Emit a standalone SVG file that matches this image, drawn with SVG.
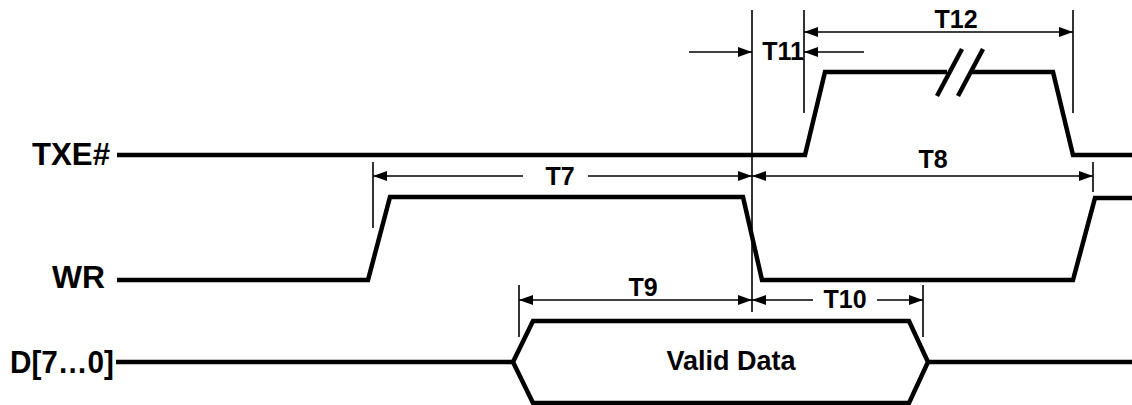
<svg xmlns="http://www.w3.org/2000/svg" width="1132" height="405" viewBox="0 0 1132 405">
<style>
.sig{fill:none;stroke:#000;stroke-width:4.5;stroke-linejoin:miter}
.dim{fill:none;stroke:#000;stroke-width:1.6}
.arr{fill:none;stroke:#000;stroke-width:1.6;marker-end:url(#ah)}
.arr2{fill:none;stroke:#000;stroke-width:1.6;marker-start:url(#ah);marker-end:url(#ah)}
.lbl{font-family:"Liberation Sans",Arial,sans-serif;font-weight:bold;font-size:32px;fill:#000}
.t{font-family:"Liberation Sans",Arial,sans-serif;font-weight:bold;font-size:25px;fill:#000;text-anchor:middle}
</style>
<defs>
<marker id="ah" markerUnits="userSpaceOnUse" markerWidth="15" markerHeight="11" refX="14" refY="5" orient="auto-start-reverse">
<path d="M0,0 L14,5 L0,10 z" fill="#000"/>
</marker>
</defs>
<rect width="1132" height="405" fill="#fff"/>
<g id="sig-txe">
<text class="lbl" x="32" y="165" textLength="78" lengthAdjust="spacingAndGlyphs">TXE#</text>
<polyline class="sig" points="117,155 805,155 825,72 947,72"/>
<polyline class="sig" points="970,72 1053,72 1073,155 1132,155"/>
<line class="sig" x1="937" y1="96" x2="962" y2="49" stroke-width="4"/>
<line class="sig" x1="958" y1="96" x2="983" y2="49" stroke-width="4"/>
</g>
<g id="sig-wr">
<text class="lbl" x="52" y="288" textLength="53" lengthAdjust="spacingAndGlyphs">WR</text>
<polyline class="sig" points="117,280 368,280 390,197 743,197 762,280 1073,280 1095,198 1132,198"/>
</g>
<g id="sig-d">
<text class="lbl" x="10" y="373" textLength="104" lengthAdjust="spacingAndGlyphs">D[7…0]</text>
<polyline class="sig" points="116,362 513,362"/>
<polygon class="sig" points="513,362 533,321 909,321 928,362 909,403 533,403"/>
<polyline class="sig" points="928,362 1132,362"/>
<text class="t" x="731" y="370" style="font-size:27px">Valid Data</text>
</g>
<g id="connectors">
<line class="dim" x1="752" y1="10" x2="752" y2="312"/>
<line class="dim" x1="804" y1="10" x2="804" y2="113"/>
<line class="dim" x1="1073" y1="10" x2="1073" y2="113"/>
<line class="dim" x1="373" y1="162" x2="373" y2="228"/>
<line class="dim" x1="1093" y1="162" x2="1093" y2="192"/>
<line class="dim" x1="519" y1="285" x2="519" y2="337"/>
<line class="dim" x1="923" y1="285" x2="923" y2="337"/>
<line class="arr2" x1="804" y1="32" x2="1073" y2="32"/>
<line class="arr" x1="689" y1="52" x2="752" y2="52"/>
<line class="arr" x1="864" y1="52" x2="804" y2="52"/>
<line class="arr" x1="523" y1="176" x2="373" y2="176"/>
<line class="arr" x1="588" y1="176" x2="752" y2="176"/>
<line class="arr2" x1="752" y1="176" x2="1093" y2="176"/>
<line class="arr2" x1="519" y1="300" x2="752" y2="300"/>
<line class="arr" x1="813" y1="300" x2="752" y2="300"/>
<line class="arr" x1="877" y1="300" x2="923" y2="300"/>
</g>
<g id="labels">
<text class="t" x="956" y="28">T12</text>
<text class="t" x="783" y="60">T11</text>
<text class="t" x="560" y="185">T7</text>
<text class="t" x="933" y="168">T8</text>
<text class="t" x="643" y="296">T9</text>
<text class="t" x="845" y="308">T10</text>
</g>
</svg>
